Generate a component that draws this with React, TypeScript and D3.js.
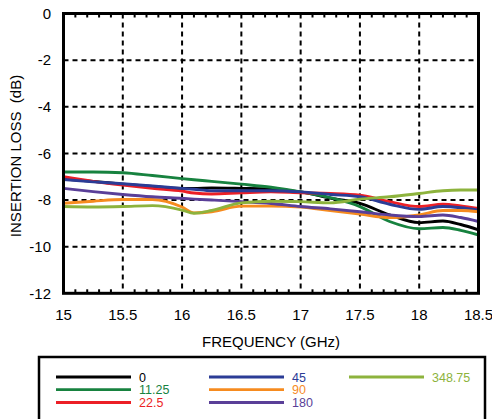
import React from "react";
import * as d3 from "d3";

const freqs = [15, 15.25, 15.5, 15.75, 16, 16.1, 16.25, 16.5, 16.75, 17, 17.25, 17.5, 17.75, 18, 18.2, 18.35, 18.5];

const s0 = [-7.1, -7.2, -7.32, -7.42, -7.5, -7.5, -7.48, -7.5, -7.53, -7.65, -7.92, -8.14, -8.64, -8.97, -8.9, -9.05, -9.28];
const s11_25 = [-6.8, -6.8, -6.83, -6.95, -7.08, -7.13, -7.2, -7.32, -7.45, -7.65, -7.9, -8.28, -8.92, -9.23, -9.18, -9.3, -9.5];
const s22_5 = [-7.0, -7.2, -7.36, -7.5, -7.62, -7.7, -7.74, -7.69, -7.65, -7.69, -7.72, -7.79, -8.07, -8.28, -8.18, -8.25, -8.36];
const s45 = [-7.12, -7.22, -7.3, -7.4, -7.5, -7.54, -7.6, -7.6, -7.6, -7.65, -7.76, -7.86, -8.18, -8.4, -8.28, -8.33, -8.43];
const s90 = [-8.14, -8.05, -7.98, -7.98, -8.3, -8.55, -8.5, -8.26, -8.26, -8.3, -8.45, -8.6, -8.75, -8.64, -8.45, -8.45, -8.5];
const s180 = [-7.5, -7.64, -7.76, -7.86, -7.93, -7.96, -8.0, -8.07, -8.15, -8.28, -8.38, -8.5, -8.64, -8.71, -8.64, -8.75, -8.92];
const s348_75 = [-8.28, -8.3, -8.28, -8.24, -8.43, -8.57, -8.45, -8.12, -8.05, -8.07, -8.12, -7.96, -7.86, -7.72, -7.6, -7.57, -7.57];

const seriesNames = ["0", "11.25", "22.5", "45", "90", "180", "348.75"];
const seriesValues = [s0, s11_25, s22_5, s45, s90, s180, s348_75];
const seriesColors = ["#000000", "#17823f", "#ec1f26", "#2b3c96", "#f68b1f", "#5a3f98", "#8db33d"];

const xTicks = [15, 15.5, 16, 16.5, 17, 17.5, 18, 18.5];
const yTicks = [0, -2, -4, -6, -8, -10, -12];

// legend layout: [col, row]
const legendPos: [number, number][] = [[0, 0], [0, 1], [0, 2], [1, 0], [1, 1], [1, 2], [2, 0]];

const FONT = "'Liberation Sans', Arial, Helvetica, sans-serif";

export default function App() {
  const left = 63.5, right = 478.5, top = 13.5, bottom = 293.3;
  const x = d3.scaleLinear().domain([15, 18.5]).range([left, right]);
  const y = d3.scaleLinear().domain([0, -12]).range([top, bottom]);

  const line = d3
    .line<[number, number]>()
    .x((d) => x(d[0]))
    .y((d) => y(d[1]))
    .curve(d3.curveMonotoneX);

  const minor = d3.range(151, 185).map((v) => v / 10).filter((v) => Math.abs(v * 2 - Math.round(v * 2)) > 1e-6);

  const colX = [56, 209, 349];
  const rowY = [377, 389.7, 402.5];

  return (
    <svg width={492} height={419} style={{ position: "absolute", left: 0, top: 0, background: "#fff" }} fontFamily={FONT}>
      <rect x={0} y={0} width={492} height={419} fill="#fff" />
      <defs>
        <clipPath id="plot">
          <rect x={left} y={top} width={right - left} height={bottom - top} />
        </clipPath>
      </defs>
      {/* grid */}
      {xTicks.slice(1, -1).map((t) => (
        <line key={"gx" + t} x1={x(t)} x2={x(t)} y1={top} y2={bottom} stroke="#000" strokeWidth={2} strokeDasharray="5,4" />
      ))}
      {yTicks.slice(1, -1).map((t) => (
        <line key={"gy" + t} x1={left} x2={right} y1={y(t)} y2={y(t)} stroke="#000" strokeWidth={2} strokeDasharray="5,4" />
      ))}
      {/* minor ticks */}
      {minor.map((t) => (
        <g key={"m" + t}>
          <line x1={x(t)} x2={x(t)} y1={bottom} y2={bottom - 4} stroke="#000" strokeWidth={2} />
          <line x1={x(t)} x2={x(t)} y1={top} y2={top + 4} stroke="#000" strokeWidth={2} />
        </g>
      ))}
      {/* series */}
      <g clipPath="url(#plot)">
        {seriesValues.map((vals, i) => (
          <path
            key={seriesNames[i]}
            d={line(freqs.map((f, j) => [f, vals[j]] as [number, number])) || ""}
            fill="none"
            stroke={seriesColors[i]}
            strokeWidth={2.9}
            strokeLinejoin="round"
          />
        ))}
      </g>
      {/* frame */}
      <rect x={left} y={top} width={right - left} height={bottom - top} fill="none" stroke="#000" strokeWidth={3} />
      {/* axis labels */}
      {yTicks.map((t) => (
        <text key={"yl" + t} x={51} y={y(t)} dy="0.35em" textAnchor="end" fontSize={15} fill="#000">
          {t}
        </text>
      ))}
      {xTicks.map((t) => (
        <text key={"xl" + t} x={x(t)} y={320} textAnchor="middle" fontSize={15} fill="#000">
          {t}
        </text>
      ))}
      <text x={271} y={347} textAnchor="middle" fontSize={15} fill="#000">
        FREQUENCY (GHz)
      </text>
      <text
        transform={`translate(21,156) rotate(-90)`}
        textAnchor="middle"
        fontSize={15}
        fill="#000"
        style={{ whiteSpace: "pre" }}
        xmlSpace="preserve"
      >
        {"INSERTION LOSS  (dB)"}
      </text>
      {/* legend */}
      <rect x={39} y={357} width={446} height={70} fill="#fff" stroke="#000" strokeWidth={2.5} />
      {seriesNames.map((n, i) => {
        const [c, r] = legendPos[i];
        const lx = colX[c];
        const ly = rowY[r];
        return (
          <g key={"lg" + n}>
            <line x1={lx} x2={lx + 75} y1={ly} y2={ly} stroke={seriesColors[i]} strokeWidth={2.8} />
            <text x={lx + 83} y={ly} dy="0.36em" fontSize={12.5} fill={seriesColors[i]}>
              {n}
            </text>
          </g>
        );
      })}
    </svg>
  );
}
